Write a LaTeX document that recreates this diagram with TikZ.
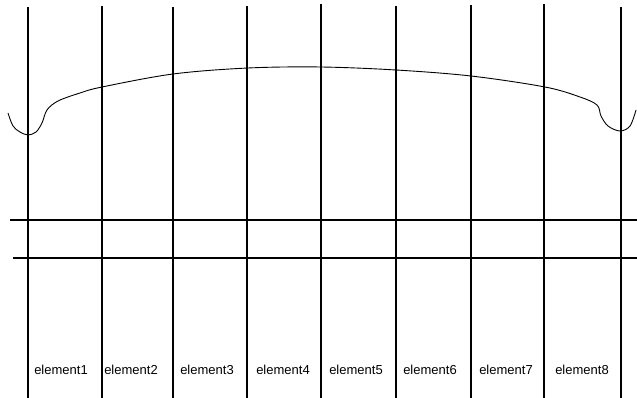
\documentclass[tikz,border=0pt]{standalone}
\usepackage{fontspec}
\setmainfont{Liberation Sans}
\usetikzlibrary{positioning}
\tikzset{
  divider/.style={line width=1.2pt, black},
  rail/.style={line width=1.1pt, black},
  curve/.style={line width=0.9pt, black, line join=round},
  elabel/.style={font=\fontsize{13}{15}\selectfont, inner sep=0pt},
}

\begin{document}
\begin{tikzpicture}[x=1pt,y=-1pt]
    \useasboundingbox (0,0) rectangle (637,398);
    % vertical dividers
    \foreach \x/\t [count=\i] in {28/7,102/6,173/7,247/6,321/4,396/6,471/5,544/4,621/7}{
        \coordinate (top\i) at (\x,\t);
        \coordinate (bot\i) at (\x,398);
        \draw[divider] (top\i) -- (bot\i);
    }
    % the two rails
    \coordinate (r1a) at (10,220);
    \coordinate (r1b) at (637,220);
    \coordinate (r2a) at (13,258);
    \coordinate (r2b) at (637,258);
    \draw[rail] (r1a) -- (r1b);
    \draw[rail] (r2a) -- (r2b);
    % hanging curve
    \draw[curve] plot[smooth, tension=0.55] coordinates {
        (8,113) (13,126) (20,132) (28,135) (36,132) (42,123) (47,110) (58,101)
        (80,93) (102,87) (173,74) (248,68) (321,67) (396,70) (471,76) (545,87)
        (580,97) (597,105) (601,116) (608,126) (620,131) (630,126) (636,110)};
    % element labels
    \foreach \x [count=\i] in {61,131,207,283,356,430,506,582}{
        \node[elabel] (el\i) at (\x,370) {element\i};
    }
\end{tikzpicture}
\end{document}
